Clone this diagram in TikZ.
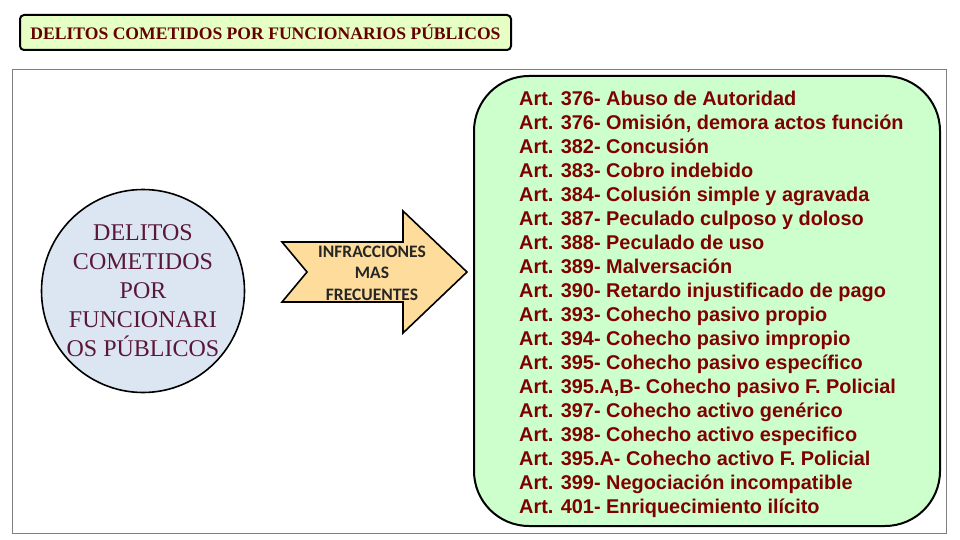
\documentclass[tikz,border=0pt]{standalone}
\usepackage{fontspec}
\setmainfont{Liberation Serif}
\newfontfamily\listfont{Liberation Sans}
\newfontfamily\arrowfont{Carlito}
\usepackage{xcolor}
\usetikzlibrary{positioning, calc}
\definecolor{titlefill}{HTML}{E6FFC4}
\definecolor{titleink}{HTML}{660000}
\definecolor{circlefill}{HTML}{DCE6F2}
\definecolor{circleink}{HTML}{5A1838}
\definecolor{arrowfill}{HTML}{FDDC9C}
\definecolor{listfill}{HTML}{CCFFCC}
\definecolor{listink}{HTML}{7F0000}
\definecolor{frameink}{HTML}{808080}

\begin{document}
\begin{tikzpicture}[
  x=1pt, y=-1pt,
  every node/.style={align=center},
  titlebox/.style={draw=black, line width=2pt, rounded corners=4pt, fill=titlefill,
    text=titleink, font=\bfseries\fontsize{17.6}{20}\selectfont, inner sep=0pt},
  bubble/.style={circle, draw=black, line width=1.6pt, fill=circlefill, text=circleink,
    minimum size=203pt, font=\fontsize{24}{29}\selectfont, inner sep=0pt},
  bigarrow/.style={draw=black, line width=1.6pt, fill=arrowfill, line join=miter},
  arrowtext/.style={font=\arrowfont\bfseries\fontsize{17.5}{21.5}\selectfont, text=black!85},
  listbox/.style={draw=black, line width=2pt, rounded corners=55pt, fill=listfill},
  listtext/.style={font=\listfont\bfseries\fontsize{19.9}{24}\selectfont, text=listink, align=left,
    inner sep=0pt, anchor=north west}
]
\useasboundingbox (0,0) rectangle (960,540);

% outer frame
\draw[frameink, line width=0.8pt] (12,69) rectangle (946,533);

% title
\node[titlebox, minimum width=491pt, minimum height=35pt] (title) at (265.5,32.5)
  {DELITOS COMETIDOS POR FUNCIONARIOS PÚBLICOS};

% circle
\node[bubble] (delitos) at (143,291) {DELITOS\\COMETIDOS\\POR\\FUNCIONARI\\OS PÚBLICOS};

% arrow
\draw[bigarrow] (282,242) -- (307,272) -- (282,302) -- (403,302) -- (403,333)
  -- (467,272) -- (403,211) -- (403,242) -- cycle;
\node[arrowtext] (infra) at (372,273) {INFRACCIONES\\MAS\\FRECUENTES};

% list
\draw[listbox] (474,76) rectangle (940,526);
\node[listtext] (arts) at (519,91) {%
Art. 376- Abuso de Autoridad\\
Art. 376- Omisión, demora actos función\\
Art. 382- Concusión\\
Art. 383- Cobro indebido\\
Art. 384- Colusión simple y agravada\\
Art. 387- Peculado culposo y doloso\\
Art. 388- Peculado de uso\\
Art. 389- Malversación\\
Art. 390- Retardo injustificado de pago\\
Art. 393- Cohecho pasivo propio\\
Art. 394- Cohecho pasivo impropio\\
Art. 395- Cohecho pasivo específico\\
Art. 395.A,B- Cohecho pasivo F. Policial\\
Art. 397- Cohecho activo genérico\\
Art. 398- Cohecho activo especifico\\
Art. 395.A- Cohecho activo F. Policial\\
Art. 399- Negociación incompatible\\
Art. 401- Enriquecimiento ilícito};

\end{tikzpicture}
\end{document}
